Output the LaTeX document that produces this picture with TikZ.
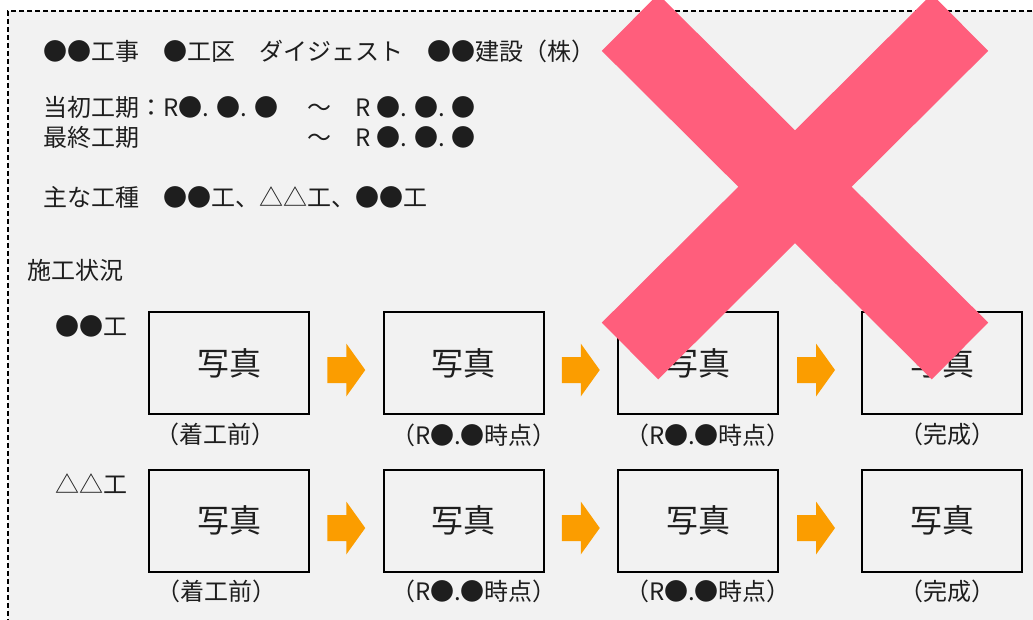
\documentclass[tikz,border=0pt]{standalone}
\usepackage{fontspec}
\setmainfont{Noto Sans CJK JP}
\usetikzlibrary{calc}
\definecolor{bggray}{RGB}{242,242,242}
\definecolor{arroworange}{RGB}{251,157,0}
\definecolor{xpink}{RGB}{255,94,124}
\definecolor{txt}{RGB}{30,30,30}
\begin{document}
\begin{tikzpicture}[x=1pt,y=-1pt,
  lbl/.style={anchor=west,inner sep=0pt,text=txt,font=\fontsize{24}{28}\selectfont},
  photo/.style={draw=black,line width=2pt,minimum width=160pt,minimum height=102pt,inner sep=0pt,text=txt,font=\fontsize{32}{36}\selectfont},
  captxt/.style={inner sep=0pt,text=txt,font=\fontsize{24}{28}\selectfont},
  flowarrow/.style={fill=arroworange},
  xbar/.style={draw=xpink,line width=80pt,line cap=butt},
  frameline/.style={draw=black,line width=1.4pt,dash pattern=on 5pt off 3pt}]
\useasboundingbox (0,0) rectangle (1033,619);
\clip (0,0) rectangle (1033,619);
% background and dashed frame
\fill[bggray] (8,11) rectangle (1040,630);
\draw[frameline] (1040,11) -- (8,11) -- (8,630);

% header texts
\node[lbl] (title) at (43,51) {●●工事　●工区　ダイジェスト　●●建設（株）};
\node[lbl] (period1) at (43.5,107) {\makebox[264pt][l]{当初工期：R●. ●. ●}～　R ●. ●. ●};
\node[lbl] (period2) at (43.5,137) {\makebox[264pt][l]{最終工期}～　R ●. ●. ●};
\node[lbl] (kinds) at (43.5,197) {主な工種　●●工、△△工、●●工};
\node[lbl] (status) at (27,270) {施工状況};
\node[lbl] (row1) at (55,326) {●●工};
\node[lbl] (row2) at (55,484) {△△工};

% photo boxes
\node[photo] (b11) at (229,363) {写真};
\node[photo] (b12) at (463.5,363) {写真};
\node[photo] (b13) at (698,363) {写真};
\node[photo] (b14) at (942,363) {写真};
\node[photo] (b21) at (229,520.5) {写真};
\node[photo] (b22) at (463.5,520.5) {写真};
\node[photo] (b23) at (698,520.5) {写真};
\node[photo] (b24) at (942,520.5) {写真};

% captions
\node[captxt] (c11) at (215,434) {（着工前）};
\node[captxt] (c12) at (474,435) {（R●.●時点）};
\node[captxt] (c13) at (708,435) {（R●.●時点）};
\node[captxt] (c14) at (947,434) {（完成）};
\node[captxt] (c21) at (216,591) {（着工前）};
\node[captxt] (c22) at (474,591) {（R●.●時点）};
\node[captxt] (c23) at (708,591) {（R●.●時点）};
\node[captxt] (c24) at (947,591) {（完成）};

% block arrows between boxes
\coordinate (m11) at ($(b11.east)!0.5!(b12.west)+(0,7)$);
\coordinate (m12) at ($(b12.east)!0.5!(b13.west)+(0,7)$);
\coordinate (m13) at ($(b13.east)!0.5!(b14.west)+(-4,7)$);
\coordinate (m21) at ($(b21.east)!0.5!(b22.west)+(0,7.5)$);
\coordinate (m22) at ($(b22.east)!0.5!(b23.west)+(0,7.5)$);
\coordinate (m23) at ($(b23.east)!0.5!(b24.west)+(-4,7.5)$);
\foreach \m in {m11,m12,m13,m21,m22,m23}{
  \fill[flowarrow] (\m) ++(-19,-13) -- ++(19,0) -- ++(0,-13.5) -- ++(19,26.5)
     -- ++(-19,26.5) -- ++(0,-13.5) -- ++(-19,0) -- cycle;
}

% pink cross on top
\coordinate (xa) at (630,22.5);
\coordinate (xb) at (960,351);
\coordinate (xc) at (960,22.5);
\coordinate (xd) at (630,351);
\draw[xbar] (xa) -- (xb);
\draw[xbar] (xc) -- (xd);
\end{tikzpicture}
\end{document}
